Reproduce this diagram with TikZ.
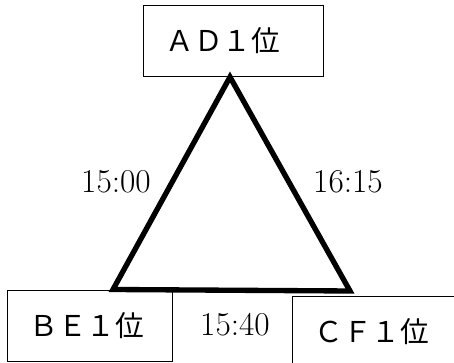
\documentclass[tikz,border=0pt]{standalone}
\usepackage{fontspec}
\newfontfamily\jpfont{Noto Sans CJK JP}
\usetikzlibrary{positioning}

\begin{document}
\begin{tikzpicture}[
    x=0.75pt, y=-0.75pt,
    teambox/.style={draw, line width=0.6pt, anchor=north west, inner xsep=16.5pt,
        minimum height=53pt, align=left, font=\jpfont\fontsize{21.5}{24}\selectfont},
    timelabel/.style={font=\fontsize{25}{29}\selectfont},
    tri/.style={line width=4pt, line join=miter}
]
\path[use as bounding box, clip] (0,0) rectangle (454,363);
% the three group winners
\node[teambox, text width=102pt] (ad) at (143,5) {ＡＤ１位};
\node[teambox, text width=90.75pt] (be) at (7,290) {ＢＥ１位};
\node[teambox, text width=98pt] (cf) at (292,296) {ＣＦ１位};
% corners of the triangle
\coordinate (top) at (230,77);
\coordinate (left) at (113,289.5);
\coordinate (right) at (350,291);
\draw[tri] (top) -- (left) -- (right) -- cycle;
% kick-off times
\node[timelabel] (t1) at (116,182) {15:00};
\node[timelabel] (t2) at (348,182) {16:15};
\node[timelabel] (t3) at (235,325) {15:40};
\end{tikzpicture}
\end{document}
